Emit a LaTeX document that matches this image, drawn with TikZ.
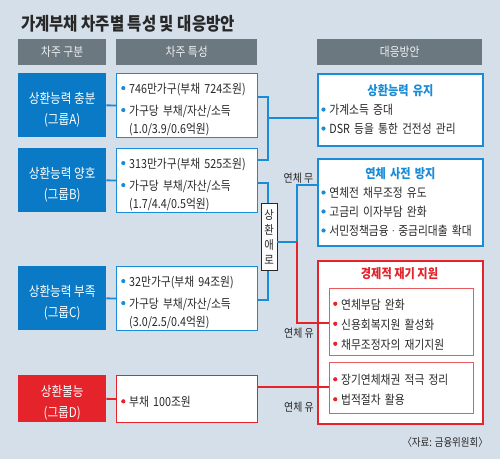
\documentclass[tikz,border=0pt]{standalone}
\usepackage{fontspec}
\newfontfamily\kr[FakeStretch=0.86]{Noto Sans CJK KR}

\definecolor{bgpaper}{RGB}{213,223,233}
\definecolor{hdrgray}{RGB}{108,120,128}
\definecolor{grpblue}{RGB}{10,122,198}
\definecolor{lnblue}{RGB}{25,140,215}
\definecolor{grpred}{RGB}{228,35,42}
\definecolor{lnred}{RGB}{232,90,95}
\definecolor{inkgray}{RGB}{40,40,40}

% bullet dot, and a strut that pushes a block down a little
\newcommand{\bul}[1]{\makebox[8pt][l]{\tikz[baseline=0pt]\fill[#1] (2.4pt,5.4pt) circle (2.1pt);}}
\newcommand{\pad}[1]{\rule{0pt}{#1}}
\newcommand{\mdot}{{\rmfamily\textperiodcentered}}

\tikzset{
  hdr/.style={fill=hdrgray, text=white!90!hdrgray, anchor=north west, inner sep=0,
    font=\kr\fontsize{12.5}{14}\selectfont},
  grp/.style={fill=grpblue, text=white, anchor=north west, inner sep=0, align=center,
    minimum width=88, font=\kr\fontsize{13.5}{21}\selectfont},
  chr/.style={draw=lnblue, line width=1.4pt, fill=white, anchor=north west, align=left,
    text width=132, inner xsep=4.5, inner ysep=0, text=inkgray,
    font=\kr\fontsize{12.5}{18}\selectfont},
  res/.style={draw=lnblue, line width=1.8pt, fill=white, anchor=north west, align=left,
    text width=158, inner xsep=3.5, inner ysep=0, text=inkgray,
    font=\kr\fontsize{12.5}{19}\selectfont},
  sub/.style={draw=lnred, line width=1.3pt, fill=white, anchor=north west, align=left,
    text width=137, inner xsep=3.5, inner ysep=0, text=inkgray,
    font=\kr\fontsize{12.5}{20}\selectfont},
  lbl/.style={text=inkgray, inner sep=0, font=\kr\fontsize{11.5}{12}\selectfont},
  bl/.style={draw=lnblue, line width=1.8pt},
  rd/.style={draw=grpred, line width=1.8pt},
}

\begin{document}
\begin{tikzpicture}[x=1pt,y=-1pt]
  \useasboundingbox (0,0) rectangle (500,459);
  \fill[bgpaper] (0,0) rectangle (500,459);

  % title
  \node[anchor=west, inner sep=0, text=inkgray, font=\kr\bfseries\fontsize{18}{19}\selectfont]
    (ttl) at (21,24) {가계부채 차주별 특성 및 대응방안};

  % column heads
  \node[hdr, minimum width=88, minimum height=26] (h1) at (18,39) {차주 구분};
  \node[hdr, minimum width=141, minimum height=26] (h2) at (116,39) {차주 특성};
  \node[hdr, minimum width=165, minimum height=26] (h3) at (317,39) {대응방안};

  % borrower groups
  \node[grp, minimum height=64] (gA) at (18,73) {\pad{20pt}상환능력 충분\\(그룹A)};
  \node[grp, minimum height=64] (gB) at (18,148) {\pad{20pt}상환능력 양호\\(그룹B)};
  \node[grp, minimum height=64] (gC) at (18,266) {\pad{20pt}상환능력 부족\\(그룹C)};
  \node[grp, fill=grpred, minimum height=47] (gD) at (18,375) {\pad{20pt}상환불능\\(그룹D)};

  % characteristics
  \node[chr, minimum height=64] (cA) at (116,73)
    {\pad{18pt}\bul{lnblue}746만가구(부채 724조원)\\[4pt]\bul{lnblue}가구당 부채/자산/소득\\\hphantom{\bul{lnblue}}(1.0/3.9/0.6억원)};
  \node[chr, minimum height=64] (cB) at (116,148)
    {\pad{18pt}\bul{lnblue}313만가구(부채 525조원)\\[4pt]\bul{lnblue}가구당 부채/자산/소득\\\hphantom{\bul{lnblue}}(1.7/4.4/0.5억원)};
  \node[chr, minimum height=64] (cC) at (116,266)
    {\pad{18pt}\bul{lnblue}32만가구(부채 94조원)\\[4pt]\bul{lnblue}가구당 부채/자산/소득\\\hphantom{\bul{lnblue}}(3.0/2.5/0.4억원)};
  \node[chr, draw=grpred, minimum height=47] (cD) at (116,375) {\pad{16pt}\bul{grpred}부채 100조원};

  % responses
  \node[res, minimum height=72] (rA) at (317,73)
    {{\bfseries\fontsize{13}{19}\selectfont\color{lnblue}\makebox[\hsize]{상환능력 유지}}\\
     \bul{lnblue}가계소득 증대\\\bul{lnblue}DSR 등을 통한 건전성 관리};
  \node[res, minimum height=87] (rB) at (317,158)
    {{\bfseries\fontsize{13}{19}\selectfont\color{lnblue}\makebox[\hsize]{연체 사전 방지}}\\
     \bul{lnblue}연체전 채무조정 유도\\\bul{lnblue}고금리 이자부담 완화\\\bul{lnblue}서민정책금융\mdot 중금리대출 확대};
  \node[draw=grpred, line width=1.8pt, fill=white, anchor=north west, inner sep=0,
    minimum width=165, minimum height=163] (rC) at (317,260) {};
  \node[text=grpred, inner sep=0, font=\kr\bfseries\fontsize{13}{14}\selectfont]
    (rCt) at (399.5,274) {경제적 재기 지원};
  \node[sub, minimum height=67] (rC1) at (329,288)
    {\pad{15pt}\bul{grpred}연체부담 완화\\\bul{grpred}신용회복지원 활성화\\\bul{grpred}채무조정자의 재기지원};
  \node[sub, minimum height=51] (rC2) at (329,362)
    {\pad{14pt}\bul{grpred}장기연체채권 적극 정리\\\bul{grpred}법적절차 활용};

  % group -> characteristics
  \draw[bl] (gA) -- (cA);
  \draw[bl] (gB) -- (cB);
  \draw[bl] (gC) -- (cC);
  \draw[rd] (gD) -- (cD);

  % A, B -> maintain
  \coordinate (kA) at (268,97);
  \coordinate (kB) at (268,160);
  \coordinate (kAB) at (268,118);
  \draw[bl] (cA.east |- kA) -- (kA) -- (kB) -- (cB.east |- kB);
  \draw[bl] (kAB) -- (rA.west |- kAB);

  % B, C -> repayment trouble
  \node[draw=inkgray, line width=0.6pt, fill=white!95!bgpaper, anchor=north, inner sep=0,
    minimum width=16, minimum height=67, align=center, text=inkgray,
    font=\kr\fontsize{12}{15}\selectfont] (repay) at (269,203) {상\\환\\애\\로};
  \coordinate (kB2) at (268,183);
  \coordinate (kC) at (268,300);
  \draw[bl] (cB.east |- kB2) -- (kB2) -- (kB2 |- repay.north);
  \draw[bl] (kB2 |- repay.south) -- (kC) -- (cC.east |- kC);

  % split by delinquency
  \coordinate (kS) at (297,242);
  \coordinate (kN) at (297,185);
  \coordinate (kY) at (297,323);
  \draw[bl] (repay.east |- kS) -- (kS) -- (kN) -- (rB.west |- kN);
  \draw[rd] (kS) -- (kY) -- (rC1.west |- kY);
  \coordinate (kD) at (300,387);
  \draw[rd] (cD.east |- kD) -- (rC2.west |- kD);

  \node[lbl] (nN) at (298.5,178) {연체 무};
  \node[lbl] (nY) at (299,333) {연체 유};
  \node[lbl] (nD) at (299,407) {연체 유};

  % source
  \node[anchor=east, inner sep=0, text=inkgray, font=\kr\fontsize{11}{12}\selectfont]
    (src) at (488,442) {〈자료: 금융위원회〉};
\end{tikzpicture}
\end{document}
